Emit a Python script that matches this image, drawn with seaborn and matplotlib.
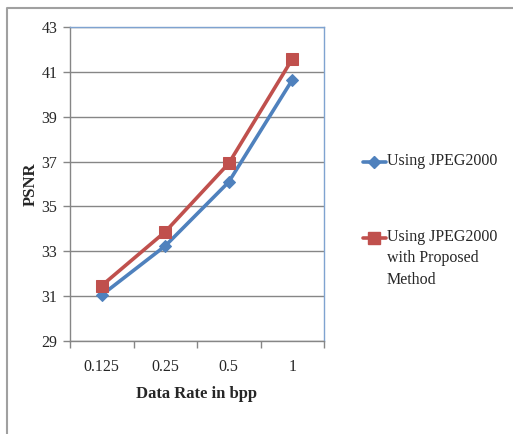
import matplotlib
matplotlib.use("Agg")
import matplotlib.pyplot as plt
import seaborn as sns
import pandas as pd
from matplotlib.lines import Line2D

categories = ["0.125", "0.25", "0.5", "1"]
jpeg2000 = [31.05, 33.24, 36.09, 40.64]
proposed = [31.47, 33.87, 36.92, 41.57]
labels = ["Using JPEG2000", "Using JPEG2000\nwith Proposed\nMethod"]
yticks = [29, 31, 33, 35, 37, 39, 41, 43]

sns.set_style("white")
plt.rcParams["font.family"] = ["Liberation Serif", "DejaVu Serif"]

W, H = 513, 434
fig = plt.figure(figsize=(W/100, H/100), dpi=100)
ax = fig.add_axes([70/W, 1-341/H, (324-70)/W, (341-27)/H])

blue = "#4F81BD"
red = "#C0504D"

df1 = pd.DataFrame({"x": categories, "y": jpeg2000})
df2 = pd.DataFrame({"x": categories, "y": proposed})
sns.lineplot(data=df1, x="x", y="y", ax=ax, color=blue, lw=2.6, marker="D",
             markersize=6.5, markeredgecolor=blue, sort=False, zorder=3)
sns.lineplot(data=df2, x="x", y="y", ax=ax, color=red, lw=2.6, marker="s",
             markersize=8.5, markeredgecolor=red, sort=False, zorder=4)

ax.set_xlim(-0.5, 3.5)
ax.set_ylim(29, 43)
ax.set_yticks(yticks)
ax.set_yticklabels([str(v) for v in yticks], fontsize=11.5)
ax.set_xticks([-0.5, 0.5, 1.5, 2.5, 3.5], minor=False)
ax.set_xticklabels([])
ax.set_xticks([0, 1, 2, 3], minor=True)
ax.set_xticklabels(categories, minor=True, fontsize=11.5)
ax.tick_params(axis="x", which="major", length=5, width=1, color="#868686", direction="out", bottom=True)
ax.tick_params(axis="x", which="minor", length=0, pad=13)
ax.tick_params(axis="y", length=5, width=1, color="#868686", direction="out", left=True, pad=4)

ax.grid(axis="y", color="#868686", lw=1)
ax.set_axisbelow(True)
for s in ["left", "bottom"]:
    ax.spines[s].set_color("#868686")
    ax.spines[s].set_linewidth(1)
for s in ["top", "right"]:
    ax.spines[s].set_visible(True)
    ax.spines[s].set_color("#7FA3D0")
    ax.spines[s].set_linewidth(1)

ax.set_xlabel("Data Rate in bpp", fontsize=12, fontweight="bold", labelpad=8)
ax.set_ylabel("PSNR", fontsize=12, fontweight="bold", labelpad=2)

# legend drawn outside the axes
def legend_entry(y_px, color, marker, ms, text):
    fig.add_artist(Line2D([363/W, 386/W], [1-y_px/H, 1-y_px/H], transform=fig.transFigure,
                          color=color, lw=2.6))
    fig.add_artist(Line2D([374/W], [1-y_px/H], transform=fig.transFigure,
                          color=color, marker=marker, markersize=ms, lw=0))
    fig.text(387/W, 1-(y_px-9)/H, text, ha="left", va="top", fontsize=11.5,
             linespacing=1.45)

legend_entry(162, blue, "D", 6.5, labels[0])
legend_entry(238, red, "s", 8.5, labels[1])

# outer frame (top and left edges visible)
fig.add_artist(Line2D([6.5/W, 6.5/W, 1.0], [0.0, 1-8/H, 1-8/H], transform=fig.transFigure,
                      color="#A0A0A0", lw=1.5))

fig.savefig("out.png", dpi=100)
